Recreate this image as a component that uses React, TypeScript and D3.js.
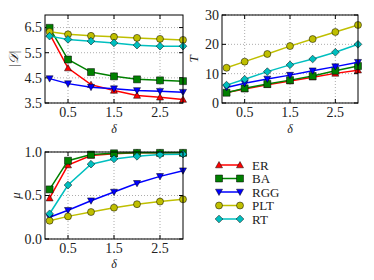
import React, { useEffect, useRef } from 'react';
import * as d3 from 'd3';

const deltas = [0.1, 0.5, 1.0, 1.5, 2.0, 2.5, 3.0];
const xTicks = [0.5, 1.5, 2.5];

// |D| panel
const dER = [6.25, 4.89, 4.23, 4.0, 3.8, 3.73, 3.64];
const dBA = [6.49, 5.23, 4.73, 4.56, 4.44, 4.4, 4.37];
const dRGG = [4.47, 4.27, 4.13, 4.07, 4.0, 3.97, 3.93];
const dPLT = [6.33, 6.23, 6.17, 6.13, 6.09, 6.05, 6.01];
const dRT = [6.16, 6.03, 5.96, 5.89, 5.8, 5.76, 5.76];

// T panel
const tER = [3.6, 4.8, 6.2, 7.5, 8.8, 10.1, 11.2];
const tBA = [3.5, 5.0, 6.5, 7.8, 9.2, 11.0, 12.6];
const tRGG = [5.3, 6.7, 8.2, 9.5, 11.0, 12.4, 13.9];
const tPLT = [12.0, 14.1, 16.7, 19.4, 21.8, 24.2, 26.6];
const tRT = [6.1, 8.1, 10.7, 13.0, 15.0, 17.3, 20.0];

// mu panel
const mER = [0.47, 0.85, 0.96, 0.98, 0.99, 0.99, 0.99];
const mBA = [0.57, 0.9, 0.97, 0.985, 0.99, 0.99, 0.99];
const mRGG = [0.25, 0.33, 0.44, 0.54, 0.64, 0.72, 0.785];
const mPLT = [0.21, 0.26, 0.31, 0.36, 0.4, 0.43, 0.456];
const mRT = [0.29, 0.62, 0.86, 0.92, 0.95, 0.97, 0.975];

const names = ['ER', 'BA', 'RGG', 'PLT', 'RT'];
const colors = ['#ff0000', '#008000', '#0000ff', '#bfbf00', '#00bfbf'];
const markers = ['triUp', 'square', 'triDown', 'circle', 'diamond'];

const FONT = '"Liberation Serif", "DejaVu Serif", serif';

function markerPath(kind: string, s: number) {
  const h = s / 2;
  switch (kind) {
    case 'triUp': return `M0,${-h}L${h},${h * 0.8}L${-h},${h * 0.8}Z`;
    case 'triDown': return `M0,${h}L${h},${-h * 0.8}L${-h},${-h * 0.8}Z`;
    case 'square': return `M${-h},${-h}H${h}V${h}H${-h}Z`;
    case 'diamond': return `M0,${-h * 1.1}L${h * 1.1},0L0,${h * 1.1}L${-h * 1.1},0Z`;
    default: return d3.symbol(d3.symbolCircle, Math.PI * h * h)() as string;
  }
}

interface Panel {
  left: number; right: number; top: number; bottom: number;
  yDomain: [number, number]; yTicks: number[]; yFmt: (v: number) => string;
  series: number[][]; yLabel: string; yLabelX: number; xLabelY: number;
}

export default function App() {
  const ref = useRef<SVGSVGElement>(null);

  useEffect(() => {
    if (!ref.current) return;
    const svg = d3.select(ref.current);
    svg.selectAll('*').remove();

    const panels: Panel[] = [
      { left: 45, right: 183, top: 15, bottom: 103, yDomain: [3.5, 7.0], yTicks: [3.5, 4.5, 5.5, 6.5],
        yFmt: d3.format('.1f'), series: [dER, dBA, dRGG, dPLT, dRT], yLabel: '|𝒟|', yLabelX: 13, xLabelY: 133 },
      { left: 222, right: 358, top: 15, bottom: 103, yDomain: [0, 30], yTicks: [0, 10, 20, 30],
        yFmt: d3.format('d'), series: [tER, tBA, tRGG, tPLT, tRT], yLabel: 'T', yLabelX: 193, xLabelY: 133 },
      { left: 45, right: 183, top: 152, bottom: 239, yDomain: [0, 1], yTicks: [0, 0.5, 1.0],
        yFmt: d3.format('.1f'), series: [mER, mBA, mRGG, mPLT, mRT], yLabel: 'μ', yLabelX: 15, xLabelY: 268 },
    ];

    panels.forEach(p => {
      const x = d3.scaleLinear().domain([0, 3]).range([p.left, p.right]);
      const y = d3.scaleLinear().domain(p.yDomain).range([p.bottom, p.top]);
      const g = svg.append('g');

      // grid
      g.selectAll('.gx').data(xTicks).enter().append('line')
        .attr('x1', d => x(d)).attr('x2', d => x(d)).attr('y1', p.top).attr('y2', p.bottom)
        .attr('stroke', '#888').attr('stroke-width', 0.7).attr('stroke-dasharray', '1,2');
      g.selectAll('.gy').data(p.yTicks).enter().append('line')
        .attr('x1', p.left).attr('x2', p.right).attr('y1', d => y(d)).attr('y2', d => y(d))
        .attr('stroke', '#888').attr('stroke-width', 0.7).attr('stroke-dasharray', '1,2');

      // ticks (inward, all sides)
      xTicks.forEach(t => {
        g.append('line').attr('x1', x(t)).attr('x2', x(t)).attr('y1', p.bottom).attr('y2', p.bottom - 4).attr('stroke', '#000');
        g.append('line').attr('x1', x(t)).attr('x2', x(t)).attr('y1', p.top).attr('y2', p.top + 4).attr('stroke', '#000');
      });
      p.yTicks.forEach(t => {
        g.append('line').attr('x1', p.left).attr('x2', p.left + 4).attr('y1', y(t)).attr('y2', y(t)).attr('stroke', '#000');
        g.append('line').attr('x1', p.right).attr('x2', p.right - 4).attr('y1', y(t)).attr('y2', y(t)).attr('stroke', '#000');
      });

      // tick labels
      g.selectAll('.xl').data(xTicks).enter().append('text')
        .attr('x', d => x(d)).attr('y', p.bottom + 14).attr('text-anchor', 'middle')
        .attr('font-family', FONT).attr('font-size', 14).attr('fill', '#222')
        .text(d => d3.format('.1f')(d));
      g.selectAll('.yl').data(p.yTicks).enter().append('text')
        .attr('x', p.left - 3).attr('y', d => y(d)).attr('dy', '0.35em').attr('text-anchor', 'end')
        .attr('font-family', FONT).attr('font-size', 14).attr('fill', '#222')
        .text(d => p.yFmt(d));

      // axis labels
      g.append('text').attr('x', (p.left + p.right) / 2).attr('y', p.xLabelY).attr('text-anchor', 'middle')
        .attr('font-family', FONT).attr('font-size', 12).attr('font-style', 'italic').attr('fill', '#222').text('δ');
      const cy = (p.top + p.bottom) / 2;
      g.append('text').attr('transform', `translate(${p.yLabelX},${cy}) rotate(-90)`)
        .attr('text-anchor', 'middle').attr('dy', '0.35em')
        .attr('font-family', FONT).attr('font-size', 13).attr('font-style', 'italic').attr('fill', '#222')
        .text(p.yLabel);

      // series
      const line = d3.line<number>().x((_, i) => x(deltas[i])).y(d => y(d));
      p.series.forEach((vals, si) => {
        g.append('path').attr('d', line(vals) as string).attr('fill', 'none')
          .attr('stroke', colors[si]).attr('stroke-width', 1.5);
        g.selectAll(null).data(vals).enter().append('path')
          .attr('transform', (d, i) => `translate(${x(deltas[i])},${y(d)})`)
          .attr('d', markerPath(markers[si], 7))
          .attr('fill', colors[si]).attr('stroke', '#000').attr('stroke-width', 0.5);
      });

      // frame
      g.append('rect').attr('x', p.left).attr('y', p.top).attr('width', p.right - p.left).attr('height', p.bottom - p.top)
        .attr('fill', 'none').attr('stroke', '#000').attr('stroke-width', 1);
    });

    // legend
    const lg = svg.append('g');
    const rowY = d3.scaleLinear().domain([0, 4]).range([165, 219]);
    names.forEach((n, i) => {
      const yy = rowY(i);
      lg.append('line').attr('x1', 219).attr('x2', 240).attr('y1', yy).attr('y2', yy)
        .attr('stroke', colors[i]).attr('stroke-width', 1.5);
      [219, 240].forEach(xx => {
        lg.append('path').attr('transform', `translate(${xx},${yy})`).attr('d', markerPath(markers[i], 7))
          .attr('fill', colors[i]).attr('stroke', '#000').attr('stroke-width', 0.5);
      });
      lg.append('text').attr('x', 252).attr('y', yy).attr('dy', '0.35em')
        .attr('font-family', FONT).attr('font-size', 13).attr('fill', '#222').text(n);
    });
  }, []);

  return (
    <svg ref={ref} width={374} height={280}
      style={{ position: 'absolute', left: 0, top: 0, background: '#fff' }} />
  );
}
